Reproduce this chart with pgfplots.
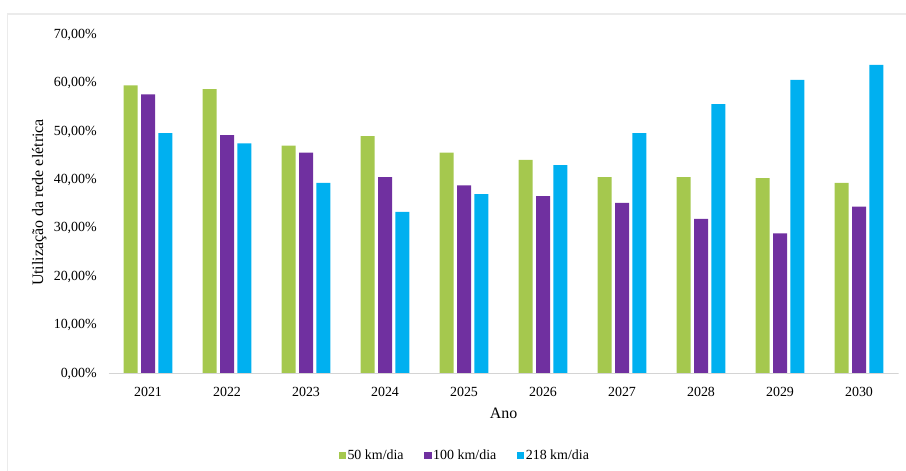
\documentclass[border=0pt]{standalone}
\usepackage{pgfplots}
\pgfplotsset{compat=1.18}
\usepackage{fontspec}
\setmainfont{Liberation Serif}

\definecolor{cGreen}{HTML}{A5C84E}
\definecolor{cPurple}{HTML}{7030A0}
\definecolor{cBlue}{HTML}{00B0F0}
\definecolor{cFrame}{HTML}{EBEBEB}
\definecolor{cAxis}{HTML}{D4D4D4}

\begin{document}
\begin{tikzpicture}[x=1bp,y=1bp]
\path[use as bounding box] (0,0) rectangle (906,-471);
\draw[cFrame,line width=1.6bp] (7.5,-14) rectangle (920,-490);
\begin{axis}[
  at={(108.5bp,-373.5bp)}, anchor=south west,
  scale only axis, width=790bp, height=338.5bp,
  xmin=-0.5, xmax=9.5, ymin=0, ymax=70,
  ybar=3.3bp, bar width=14bp,
  axis line style={draw=none},
  major tick length=0pt, tick style={draw=none},
  xtick={0,...,9},
  xticklabels={2021,2022,2023,2024,2025,2026,2027,2028,2029,2030},
  ytick={0,10,...,70},
  yticklabels={{0,00\%},{10,00\%},{20,00\%},{30,00\%},{40,00\%},{50,00\%},{60,00\%},{70,00\%}},
  /pgf/number format/assume math mode=true,
  ticklabel style={font=\fontsize{14}{16}\selectfont},
  yticklabel style={inner sep=0pt, anchor=east, xshift=-11.5bp},
  xticklabel style={inner sep=0pt, anchor=north, yshift=-13.5bp},
  xlabel={Ano},
  xlabel style={font=\fontsize{16}{18}\selectfont, at={(axis description cs:0.5,-0.1323)}, anchor=base},
  ylabel={Utilização da rede elétrica},
  ylabel style={font=\fontsize{16}{18}\selectfont, at={(axis description cs:-0.0829,0.505)}, anchor=base, rotate=0},
  legend image code/.code={\fill[#1] (0bp,-3.5bp) rectangle (7.5bp,3.5bp);},
  legend columns=3,
  legend style={draw=none, fill=none, at={(axis description cs:0.4506,-0.2408)}, anchor=center,
    font=\fontsize{14}{16}\selectfont,
    nodes={inner sep=1.5bp},
    /tikz/every odd column/.append style={column sep=0bp},
    /tikz/every even column/.append style={column sep=19bp}},
]
\addplot[fill=cGreen, draw=none] coordinates {
  (0,59.6) (1,58.8) (2,47.1) (3,49.1) (4,45.7) (5,44.2) (6,40.6) (7,40.6) (8,40.4) (9,39.4)};
\addplot[fill=cPurple, draw=none] coordinates {
  (0,57.7) (1,49.3) (2,45.7) (3,40.6) (4,38.9) (5,36.7) (6,35.3) (7,32.0) (8,29.0) (9,34.5)};
\addplot[fill=cBlue, draw=none] coordinates {
  (0,49.7) (1,47.6) (2,39.4) (3,33.4) (4,37.1) (5,43.1) (6,49.7) (7,55.7) (8,60.7) (9,63.8)};
\legend{50 km/dia, 100 km/dia, 218 km/dia}
\draw[cAxis, line width=1.4bp] (rel axis cs:0,0) -- (rel axis cs:1,0);
\end{axis}
\end{tikzpicture}
\end{document}
